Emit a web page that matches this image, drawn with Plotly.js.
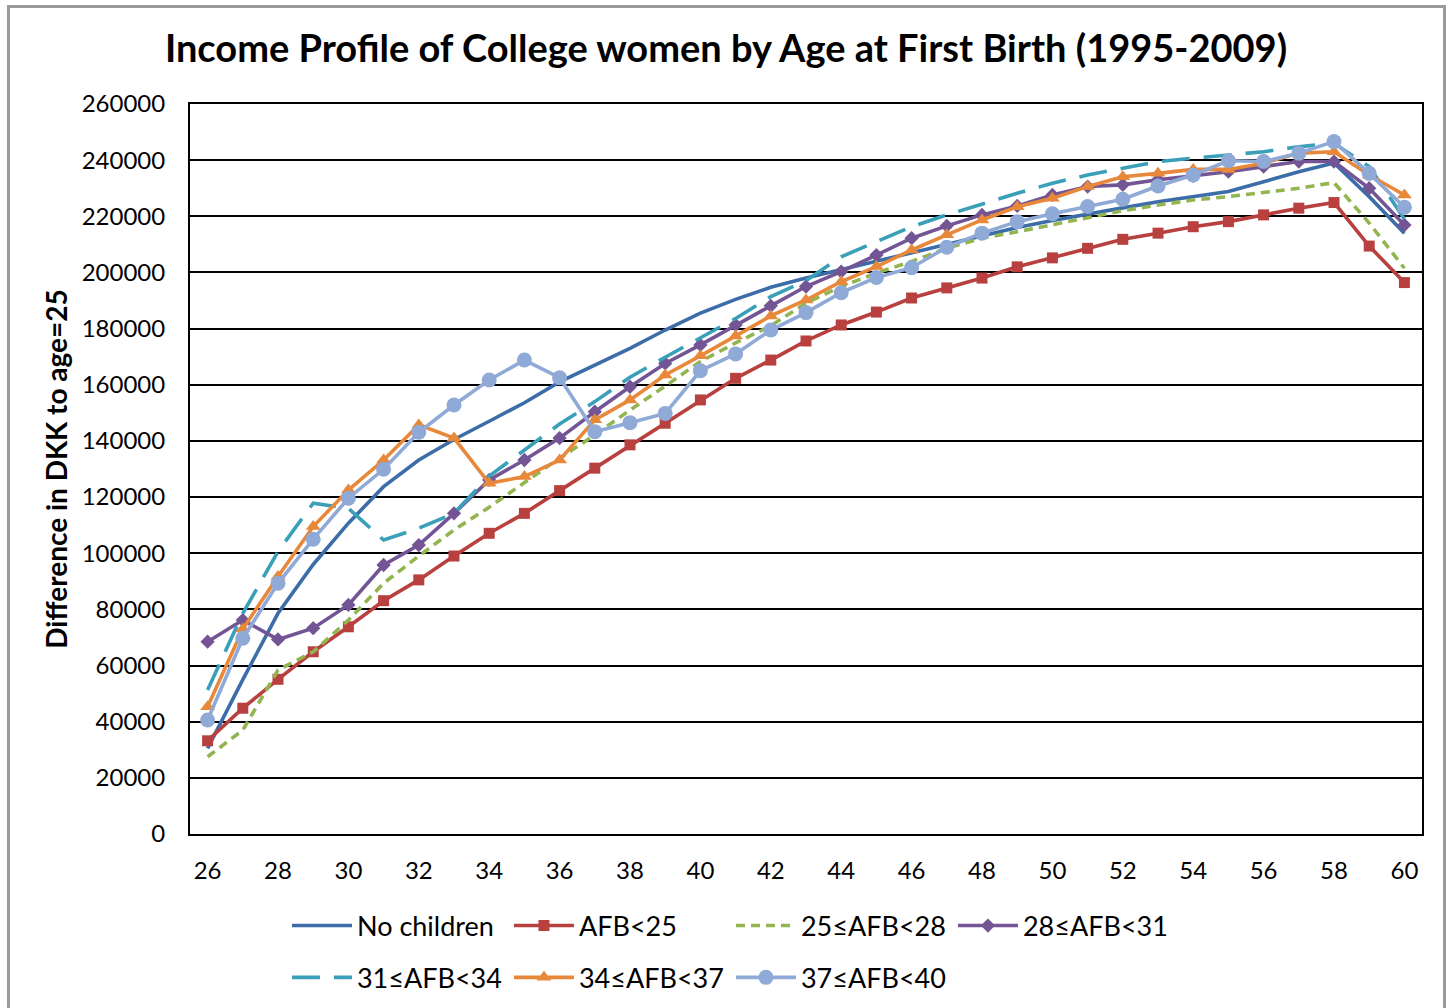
<!DOCTYPE html>
<html>
<head>
<meta charset="utf-8">
<script src="https://cdn.plot.ly/plotly-3.0.1.min.js"></script>
<style>
html,body{margin:0;padding:0;background:#fff;}
#wrap{position:relative;width:1450px;height:1008px;overflow:hidden;}
#chart{width:1450px;height:1008px;}
#frame{position:absolute;left:7px;top:5px;width:1439px;height:1020px;border:3px solid #9a9a9a;box-sizing:border-box;pointer-events:none;}
</style>
</head>
<body>
<div id="wrap"><div id="chart"></div><div id="frame"></div></div>
<script>
const ages = [26,27,28,29,30,31,32,33,34,35,36,37,38,39,40,41,42,43,44,45,46,47,48,49,50,51,52,53,54,55,56,57,58,59,60];

const noChildren = [30500,55000,78600,96000,110700,123700,133200,140500,147000,153600,161000,167000,173000,179500,185500,190400,194700,198000,201000,203800,207000,210000,213000,216000,218500,220600,223000,225200,227000,228800,232300,235900,239000,227000,214000];
const afbLt25 = [33200,44800,55100,64900,73800,83100,90500,99000,107100,114200,122300,130300,138600,146300,154600,162300,168800,175600,181300,185900,190900,194500,198000,202000,205200,208600,211800,214000,216300,218100,220500,222900,224900,209400,196400];
const afb25to28 = [27500,37000,58400,64900,76200,89300,99000,108300,116400,125000,133900,142100,151000,159500,168300,174900,181000,189100,195000,199800,203900,208600,212200,214500,216900,219600,222000,224000,225800,227000,228400,230000,232000,217600,201500];
const afb28to31 = [68500,76200,69300,73300,81600,95800,102900,114200,126100,133200,141000,150400,159300,167600,174200,181300,188100,195000,200300,206200,212200,216600,220500,223700,227600,230600,231200,233000,234400,235900,237700,239500,239500,230000,216900];
const afb31to34 = [51300,78600,100600,117800,116000,104700,108900,114200,127500,136800,146000,154000,162700,169800,176600,183600,191400,197100,205600,211000,216300,220500,224400,228200,231800,234700,237100,239500,240700,241900,243000,244800,246000,237700,219000];
const afb34to37 = [45300,73000,91700,109500,122500,133200,145700,141000,124900,127300,133200,147500,154600,163500,170300,177400,184500,190200,196700,202100,208000,213400,218700,223400,226400,230600,234100,235300,236700,236700,238900,242500,243000,234700,227600];
const afb37to40 = [40600,69700,89300,105000,119600,129900,143100,152800,161700,168800,162500,143300,146500,149800,165000,171000,179500,185700,192800,198200,201700,209000,214000,218100,220900,223500,226100,230800,234700,239800,239500,242500,246600,235300,223200];

const seriesNames = ['No children','AFB<25','25≤AFB<28','28≤AFB<31','31≤AFB<34','34≤AFB<37','37≤AFB<40'];
const xTicks = [26,28,30,32,34,36,38,40,42,44,46,48,50,52,54,56,58,60];
const yTicks = [0,20000,40000,60000,80000,100000,120000,140000,160000,180000,200000,220000,240000,260000];

const FONT = 'Lato, "Open Sans", sans-serif';

function tr(name, y, color, dash, symbol, size, legend) {
  const t = {
    x: ages, y: y, name: name, type: 'scatter',
    mode: symbol ? 'lines+markers' : 'lines',
    line: {color: color, width: 3.6, dash: dash || 'solid'},
    legend: legend
  };
  if (symbol) t.marker = {symbol: symbol, size: size, color: color};
  return t;
}

const data = [
  tr(seriesNames[0], noChildren, '#3C6DA8', 'solid', null, 0, 'legend'),
  tr(seriesNames[1], afbLt25, '#B8413F', 'solid', 'square', 11, 'legend'),
  tr(seriesNames[2], afb25to28, '#92B550', '9px,6px', null, 0, 'legend'),
  tr(seriesNames[3], afb28to31, '#735595', 'solid', 'diamond', 11, 'legend'),
  tr(seriesNames[4], afb31to34, '#3A9FB8', '28px,14px', null, 0, 'legend2'),
  tr(seriesNames[5], afb34to37, '#E8883B', 'solid', 'triangle-up', 13, 'legend2'),
  tr(seriesNames[6], afb37to40, '#8FAAD6', 'solid', 'circle', 15, 'legend2')
];

const legendCommon = {
  orientation: 'h', xref: 'paper', yref: 'paper', xanchor: 'left', yanchor: 'middle',
  font: {family: FONT, size: 27, color: '#000'},
  entrywidth: 147, entrywidthmode: 'pixels', itemwidth: 60,
  bgcolor: 'rgba(0,0,0,0)', traceorder: 'normal'
};

const layout = {
  width: 1450, height: 1008,
  paper_bgcolor: '#fff', plot_bgcolor: '#fff',
  margin: {l: 190, r: 28, t: 104, b: 174, autoexpand: false},
  font: {family: FONT, color: '#000'},
  title: {text: 'Income Profile of College women by Age at First Birth (1995-2009)',
          font: {family: FONT, size: 38, color: '#000', weight: 'bold'},
          x: 0.5007, xanchor: 'center', y: 0.952, yanchor: 'middle', xref: 'container'},
  xaxis: {range: [25.5, 60.5], tickvals: xTicks, ticktext: xTicks.map(String),
          showgrid: false, zeroline: false, showline: true, linecolor: '#000', linewidth: 2,
          mirror: true, ticks: '', ticklabelstandoff: 14,
          tickfont: {family: FONT, size: 24, color: '#000'}},
  yaxis: {range: [0, 260000], tickvals: yTicks, ticktext: yTicks.map(String),
          showgrid: true, gridcolor: '#000', gridwidth: 2, zeroline: false,
          showline: true, linecolor: '#000', linewidth: 2, mirror: true, ticks: '',
          ticklabelstandoff: 18, tickfont: {family: FONT, size: 24, color: '#000'},
          title: {text: 'Difference in DKK to age=25', standoff: 6,
                  font: {family: FONT, size: 28, color: '#000', weight: 'bold'}}},
  legend: Object.assign({}, legendCommon, {x: 0.0787, y: -0.126}),
  legend2: Object.assign({}, legendCommon, {x: 0.0787, y: -0.197}),
  showlegend: true
};

Plotly.newPlot('chart', data, layout, {displayModeBar: false, staticPlot: true});
</script>
</body>
</html>
